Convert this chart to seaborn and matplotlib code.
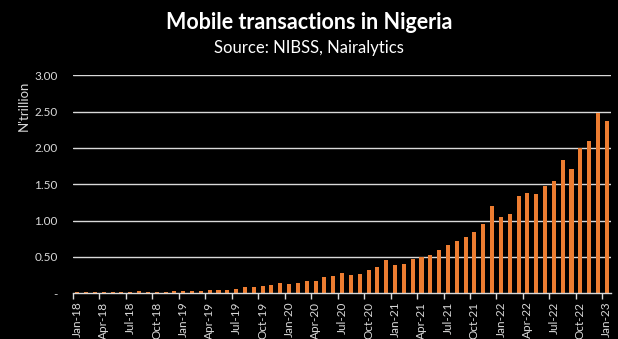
import matplotlib
matplotlib.use("Agg")
import matplotlib.pyplot as plt
from matplotlib.ticker import FixedLocator, FuncFormatter
import seaborn as sns
import pandas as pd

# Monthly mobile transaction value, N'trillion (Jan 2018 - Jan 2023)
months = pd.date_range("2018-01-01", "2023-01-01", freq="MS").strftime("%b-%y").tolist()
values = [
    0.018, 0.018, 0.018, 0.018, 0.018, 0.018, 0.018, 0.032, 0.018, 0.018,
    0.018, 0.032, 0.032, 0.032, 0.032, 0.046, 0.046, 0.046, 0.060, 0.087,
    0.087, 0.100, 0.115, 0.142, 0.128, 0.142, 0.170, 0.170, 0.225, 0.238,
    0.280, 0.252, 0.266, 0.320, 0.362, 0.458, 0.390, 0.403, 0.472, 0.500,
    0.527, 0.596, 0.665, 0.720, 0.775, 0.843, 0.954, 1.200, 1.050, 1.090,
    1.340, 1.380, 1.366, 1.476, 1.545, 1.834, 1.710, 2.000, 2.095, 2.480,
    2.370,
]
y_ticks = [0, 0.5, 1.0, 1.5, 2.0, 2.5, 3.0]

title = "Mobile transactions in Nigeria"
subtitle = "Source: NIBSS, Nairalytics"
y_label = "N'trillion"

BG = "#000000"
BAR = "#ED7D31"
GRID = "#D9D9D9"
TXT = "#D9D9D9"

sns.set_theme(style="dark")
plt.rcParams["font.family"] = ["Lato", "DejaVu Sans"]

df = pd.DataFrame({"month": months, "value": values})

fig = plt.figure(figsize=(6.18, 3.39), dpi=100, facecolor=BG)
ax = fig.add_axes([0.118, 0.135, 0.871, 0.643], facecolor=BG)

sns.barplot(data=df, x="month", y="value", color=BAR, saturation=1,
            width=0.46, ax=ax, zorder=3, edgecolor="none", linewidth=0)

ax.set_xlim(-0.5, len(months) - 0.5)
ax.set_ylim(0, 3.0)

# horizontal gridlines
ax.set_yticks(y_ticks)
ax.yaxis.set_major_formatter(FuncFormatter(lambda v, p: "-" if v == 0 else f"{v:.2f}"))
for yv in y_ticks[1:]:
    ax.axhline(yv, color=GRID, lw=1.0, zorder=1)

# category labels every quarter, tick marks on category boundaries
label_pos = list(range(0, len(months), 3))
ax.set_xticks(label_pos)
ax.set_xticklabels([months[i] for i in label_pos], rotation=90)
ax.xaxis.set_minor_locator(FixedLocator([p - 0.5 for p in label_pos]))
ax.tick_params(axis="x", which="major", length=0, pad=6, labelsize=8.5, colors=TXT)
ax.tick_params(axis="x", which="minor", length=4, width=1, color=GRID, bottom=True)
ax.tick_params(axis="y", length=0, pad=11, labelsize=8.5, colors=TXT)

for side in ("top", "right", "left"):
    ax.spines[side].set_visible(False)
ax.spines["bottom"].set_color(GRID)
ax.spines["bottom"].set_linewidth(1.0)
ax.spines["bottom"].set_zorder(4)
ax.grid(False)

ax.set_xlabel("")
ax.set_ylabel("")
fig.text(0.039, 0.761, y_label, rotation=90, ha="center", va="top",
         color=TXT, fontsize=9.5)

fig.text(0.5, 0.935, title, ha="center", va="center", color="white",
         fontsize=15.5, fontweight="bold")
fig.text(0.5, 0.858, subtitle, ha="center", va="center", color="white",
         fontsize=12)

fig.savefig("out.png", dpi=100, facecolor=BG)
